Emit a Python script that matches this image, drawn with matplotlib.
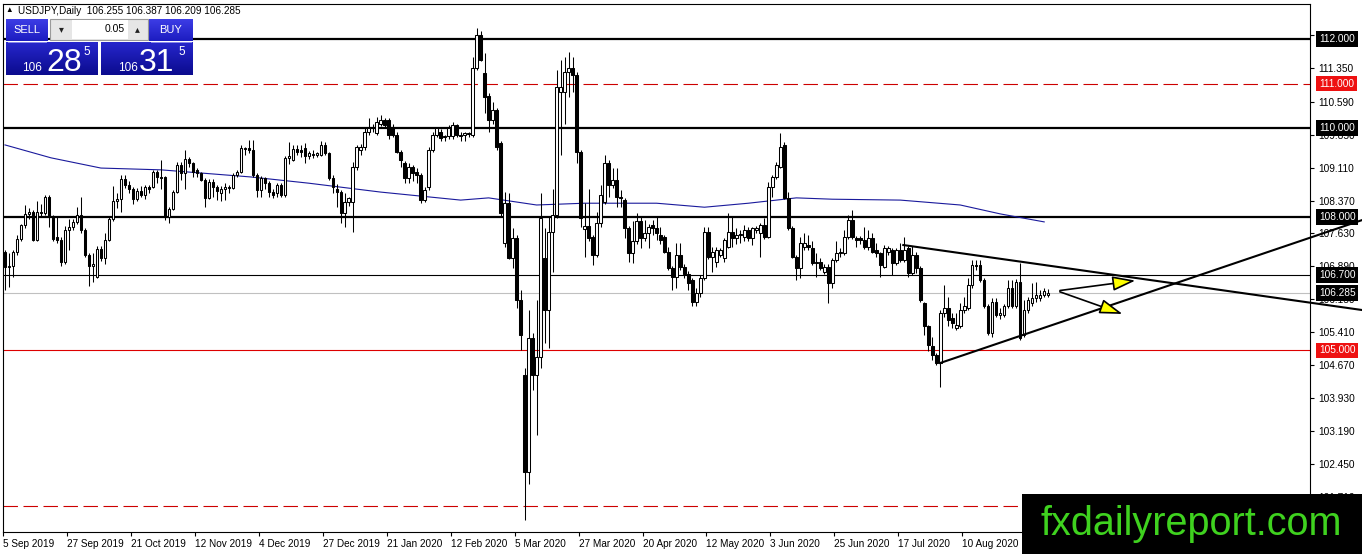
import numpy as np
import matplotlib.pyplot as plt
import matplotlib.transforms as mtransforms
from matplotlib.patches import Rectangle, FancyArrowPatch
from matplotlib.colors import LinearSegmentedColormap

plt.rcParams['font.family'] = ['Liberation Sans', 'DejaVu Sans']

# USDJPY daily candles (bar 0 = 5 Sep 2019)
opens = [
    107.21, 106.88, 106.90, 107.21, 107.51, 107.81, 108.07, 108.11, 107.48, 108.11,
    108.08, 108.45, 108.00, 107.55, 107.48, 107.00, 107.70, 107.78, 107.88, 108.05,
    107.70, 107.14, 106.91, 106.65, 107.28, 107.08, 107.48, 107.96, 108.37, 108.40,
    108.85, 108.72, 108.62, 108.40, 108.58, 108.50, 108.68,
    108.68, 109.02, 108.91, 108.89, 108.01, 108.19, 108.57, 109.17, 108.98, 109.30,
    109.21, 109.05, 108.98, 108.83, 108.42, 108.79, 108.68, 108.55, 108.62, 108.65,
    108.66, 108.95, 109.02, 109.52, 109.55, 109.51, 108.94, 108.61, 108.87, 108.76,
    108.57, 108.53, 108.72, 108.50, 109.32, 109.28, 109.52, 109.50,
    109.54, 109.36, 109.42, 109.40, 109.39, 109.62, 109.43, 108.87, 108.64, 108.57,
    108.08, 108.34, 108.34, 109.13, 109.51, 109.58, 109.92, 110.00, 109.88, 110.10,
    110.18, 110.18, 110.03, 109.84, 109.47, 109.21, 108.87, 109.13, 109.02, 108.95,
    108.38, 108.68, 109.51, 109.84, 109.92, 109.80, 109.81, 109.81, 110.07,
    109.84, 109.84, 109.88, 109.84, 111.34, 112.09, 111.23, 110.72, 110.18, 110.40,
    109.66, 107.41, 108.31, 107.07, 107.52, 106.13, 104.45, 102.28, 105.27, 104.45, 104.86,
    107.07, 105.91, 107.67, 108.04, 110.82, 110.82, 111.27, 111.34, 111.19, 109.47,
    107.74, 107.80, 107.55, 107.15, 107.86, 108.34, 109.21,
    108.72, 108.83, 108.46, 108.38, 107.75, 107.18, 107.45, 107.90, 107.52, 107.63,
    107.82, 107.75, 107.60, 107.56, 107.22, 106.85, 106.66, 107.15, 106.88, 106.73,
    106.58, 106.10, 106.29, 106.62, 107.67, 107.11, 107.00, 107.15, 107.07, 107.33,
    107.67, 107.52, 107.60, 107.56, 107.71,
    107.52, 107.71, 107.63, 107.82, 107.56, 108.68, 108.91, 109.13, 109.62, 108.42,
    107.75, 107.11, 106.85, 107.33, 107.37, 107.30, 106.96, 107.00, 106.77, 106.88,
    106.51, 107.03, 107.18, 107.18, 107.56, 107.93, 107.52, 107.52, 107.48, 107.33,
    107.52, 107.26, 107.18, 106.88, 107.22,
    107.26, 106.96, 107.26, 107.04, 107.30, 106.74, 107.15, 106.85, 106.06, 105.54,
    105.09, 104.90, 104.71, 105.84, 105.95, 105.73, 105.50, 105.54, 105.91, 105.95,
    106.48, 106.92, 106.92, 106.59, 105.99, 105.39, 106.10, 105.80, 105.80, 105.99,
    106.40, 105.99, 106.55, 105.35, 105.91, 106.06, 106.18, 106.18, 106.25, 106.255,
]
highs = [
    107.25, 107.18, 107.25, 107.59, 107.85, 108.26, 108.20, 108.15, 108.35, 108.30,
    108.50, 108.50, 108.05, 108.00, 107.55, 107.80, 107.95, 107.95, 108.22, 108.45,
    107.75, 107.20, 107.20, 107.35, 107.35, 107.65, 108.00, 108.70, 108.55, 108.95,
    108.95, 108.80, 108.68, 108.65, 108.70, 108.72, 108.72,
    109.06, 109.06, 109.28, 108.92, 108.22, 108.60, 109.24, 109.24, 109.51, 109.35,
    109.24, 109.10, 109.02, 108.88, 108.85, 108.85, 108.72, 108.70, 108.76, 108.72,
    108.98, 109.05, 109.62, 109.58, 109.73, 109.73, 108.98, 108.92, 108.91, 108.80,
    108.62, 108.76, 108.77, 109.36, 109.69, 109.62, 109.62, 109.62,
    109.66, 109.48, 109.50, 109.47, 109.70, 109.68, 109.47, 108.95, 108.75, 108.60,
    108.53, 108.45, 109.24, 109.62, 109.65, 110.00, 110.22, 110.10, 110.25, 110.29,
    110.22, 110.22, 110.10, 109.90, 109.50, 109.25, 109.21, 109.16, 109.10, 109.00,
    108.68, 109.58, 109.90, 110.03, 109.98, 109.85, 110.06, 110.14, 110.10,
    109.90, 109.92, 109.92, 111.60, 112.24, 112.17, 111.68, 110.78, 110.58, 110.45,
    109.70, 108.57, 108.53, 107.75, 107.60, 106.36, 104.60, 105.91, 105.39, 106.13, 108.53,
    107.75, 108.01, 108.64, 111.30, 111.53, 111.60, 111.71, 111.60, 111.25, 109.50,
    108.31, 108.64, 107.60, 108.12, 108.72, 109.39, 109.28,
    109.10, 109.10, 108.60, 108.42, 107.80, 107.90, 108.08, 108.01, 107.93, 107.85,
    107.93, 108.01, 107.78, 107.60, 107.33, 106.90, 107.41, 107.41, 106.95, 106.78,
    106.62, 106.40, 106.70, 107.78, 107.78, 107.33, 107.33, 107.30, 107.52, 108.08,
    108.01, 107.75, 107.71, 107.82, 107.78,
    107.78, 107.80, 107.86, 107.97, 108.79, 108.95, 109.24, 109.88, 109.69, 108.57,
    107.80, 107.15, 107.56, 107.63, 107.60, 107.45, 107.18, 107.07, 106.95, 106.95,
    107.08, 107.45, 107.30, 107.71, 108.05, 108.16, 107.58, 107.58, 107.78, 107.71,
    107.63, 107.41, 107.22, 107.37, 107.35,
    107.30, 107.30, 107.41, 107.56, 107.34, 107.34, 107.22, 106.90, 106.10, 105.58,
    105.31, 104.95, 105.91, 106.48, 106.21, 105.84, 105.84, 106.06, 106.21, 106.62,
    107.04, 107.04, 107.04, 106.62, 106.05, 106.18, 106.18, 105.95, 106.05, 106.59,
    106.59, 106.60, 106.96, 106.14, 106.21, 106.51, 106.55, 106.37, 106.40, 106.387,
]
lows = [
    106.35, 106.43, 106.65, 107.15, 107.45, 107.75, 107.95, 107.45, 107.45, 108.00,
    108.05, 107.78, 107.45, 107.42, 106.90, 106.95, 107.25, 107.70, 107.85, 107.65,
    107.10, 106.46, 106.55, 106.62, 107.02, 106.95, 107.45, 107.90, 108.20, 108.12,
    108.65, 108.55, 108.30, 108.35, 108.45, 108.40, 108.55,
    108.65, 108.76, 108.64, 107.93, 107.86, 108.15, 108.55, 108.83, 108.64, 109.12,
    108.91, 108.90, 108.80, 108.23, 108.40, 108.46, 108.38, 108.35, 108.38, 108.53,
    108.62, 108.90, 109.00, 109.40, 109.43, 108.90, 108.46, 108.45, 108.62, 108.46,
    108.43, 108.46, 108.44, 108.44, 109.20, 109.25, 109.40, 109.35,
    109.21, 109.30, 109.33, 109.35, 109.36, 109.40, 108.83, 108.53, 108.23, 107.86,
    107.78, 108.25, 107.67, 109.05, 109.40, 109.50, 109.85, 109.90, 109.85, 110.05,
    110.00, 109.76, 109.80, 109.43, 109.13, 108.76, 108.76, 108.80, 108.76, 108.31,
    108.34, 108.60, 109.45, 109.80, 109.70, 109.70, 109.75, 109.75, 109.80,
    109.70, 109.70, 109.80, 109.80, 111.30, 111.50, 110.33, 109.92, 110.10, 109.50,
    108.00, 107.33, 107.05, 106.85, 105.95, 105.01, 101.19, 102.01, 104.11, 103.10, 104.60,
    105.16, 105.05, 106.77, 107.97, 109.39, 110.10, 110.70, 110.80, 109.21, 107.78,
    107.10, 107.45, 106.92, 107.10, 107.78, 108.30, 108.46,
    108.65, 108.23, 108.23, 107.52, 107.00, 106.96, 107.40, 107.30, 107.45, 107.30,
    107.60, 107.48, 107.40, 107.18, 106.80, 106.36, 106.40, 106.80, 106.62, 106.36,
    105.99, 106.00, 106.20, 106.58, 107.05, 106.77, 106.88, 107.10, 107.00, 107.30,
    107.33, 107.40, 107.41, 107.45, 107.45,
    107.37, 107.65, 107.11, 107.50, 107.52, 108.46, 108.85, 109.10, 108.40, 107.70,
    107.07, 106.58, 106.62, 107.26, 107.25, 106.92, 106.66, 106.80, 106.72, 106.06,
    106.40, 106.98, 107.10, 107.15, 107.50, 107.50, 107.33, 107.40, 107.28, 107.26,
    107.18, 107.11, 106.66, 106.85, 107.15,
    106.70, 106.92, 107.00, 107.00, 106.66, 106.70, 106.74, 106.10, 105.35, 104.98,
    104.79, 104.68, 104.19, 105.75, 105.54, 105.50, 105.46, 105.50, 105.85, 105.90,
    106.40, 106.81, 106.55, 105.95, 105.35, 105.31, 105.76, 105.70, 105.75, 105.95,
    105.95, 105.95, 105.24, 105.30, 105.85, 106.00, 106.10, 106.12, 106.20, 106.209,
]
closes = [
    106.88, 106.91, 107.21, 107.51, 107.81, 108.07, 108.11, 107.48, 108.11, 108.08,
    108.45, 108.00, 107.51, 107.48, 107.00, 107.70, 107.78, 107.88, 108.05, 107.70,
    107.15, 106.91, 106.95, 107.28, 107.08, 107.48, 107.96, 108.37, 108.40, 108.85,
    108.72, 108.62, 108.40, 108.58, 108.50, 108.68, 108.62,
    109.02, 108.91, 108.88, 108.01, 108.19, 108.57, 109.17, 108.98, 109.30, 109.21,
    109.02, 108.98, 108.83, 108.42, 108.79, 108.68, 108.58, 108.64, 108.68, 108.67,
    108.95, 109.02, 109.54, 109.55, 109.50, 108.94, 108.61, 108.87, 108.76, 108.57,
    108.50, 108.72, 108.50, 109.32, 109.38, 109.52, 109.47, 109.45,
    109.36, 109.43, 109.39, 109.43, 109.62, 109.43, 108.87, 108.68, 108.57, 108.08,
    108.34, 108.42, 109.13, 109.58, 109.58, 109.92, 110.00, 110.00, 110.14, 110.18,
    110.07, 109.84, 109.84, 109.47, 109.28, 108.87, 109.13, 108.98, 108.95, 108.38,
    108.61, 109.51, 109.84, 110.00, 109.77, 109.81, 110.00, 110.07, 109.84,
    109.81, 109.88, 109.86, 111.34, 112.09, 111.53, 110.70, 110.18, 110.40, 109.58,
    108.08, 108.31, 107.07, 107.52, 106.13, 105.35, 102.28, 105.27, 104.45, 104.86, 107.97,
    105.91, 107.67, 108.04, 110.93, 110.93, 111.27, 111.34, 111.19, 109.47, 107.97,
    107.80, 107.52, 107.15, 107.86, 108.49, 109.21, 108.72,
    108.83, 108.46, 108.42, 107.75, 107.18, 107.45, 107.90, 107.52, 107.63, 107.78,
    107.75, 107.63, 107.48, 107.22, 106.85, 106.66, 107.15, 106.88, 106.73, 106.51,
    106.10, 106.29, 106.62, 107.67, 107.11, 107.22, 107.26, 107.26, 107.48, 107.67,
    107.52, 107.60, 107.61, 107.71, 107.52,
    107.75, 107.75, 107.82, 107.56, 108.68, 108.91, 109.17, 109.58, 108.42, 107.75,
    107.11, 106.85, 107.41, 107.41, 107.33, 106.96, 107.00, 106.85, 106.88, 106.51,
    107.03, 107.18, 107.22, 107.56, 107.93, 107.56, 107.48, 107.48, 107.33, 107.52,
    107.22, 107.18, 106.92, 107.30, 107.30,
    106.96, 107.26, 107.04, 107.26, 106.74, 107.15, 106.85, 106.14, 105.54, 105.13,
    104.90, 104.71, 105.84, 105.95, 105.69, 105.61, 105.58, 105.91, 105.99, 106.48,
    106.92, 106.89, 106.59, 105.99, 105.39, 106.10, 105.80, 105.84, 105.99, 106.40,
    105.99, 106.55, 105.28, 105.91, 106.14, 106.18, 106.25, 106.25, 106.33, 106.285,
]

# 200-day moving average, read at a few bars
ma_bars = [0, 11.5, 24, 39, 61.5, 76, 94, 114, 121, 133, 145, 163, 175, 186, 198, 207, 224, 239, 249, 260]
ma_vals = [109.62, 109.33, 109.10, 109.06, 108.90, 108.76, 108.56, 108.38, 108.43, 108.27,
           108.31, 108.31, 108.22, 108.31, 108.43, 108.40, 108.38, 108.27, 108.07, 107.89]

date_bars = [0, 16, 32, 48, 64, 80, 96, 112, 128, 144, 160, 176, 192, 208, 224, 240]
date_labels = ['5 Sep 2019', '27 Sep 2019', '21 Oct 2019', '12 Nov 2019', '4 Dec 2019',
               '27 Dec 2019', '21 Jan 2020', '12 Feb 2020', '5 Mar 2020', '27 Mar 2020',
               '20 Apr 2020', '12 May 2020', '3 Jun 2020', '25 Jun 2020', '17 Jul 2020',
               '10 Aug 2020']
price_ticks = [101.71, 102.45, 103.19, 103.93, 104.67, 105.41, 106.15, 106.89,
               107.63, 108.37, 109.11, 109.85, 110.59, 111.35, 112.09]

# horizontal levels: price, colour, width, style, label box colour
levels = [
    (112.0, 'black', 1.6, '-', 'black'),
    (111.0, '#cc0000', 0.8, (0, (13, 5)), '#ee1111'),
    (110.0, 'black', 1.6, '-', 'black'),
    (108.0, 'black', 1.6, '-', 'black'),
    (106.7, 'black', 0.8, '-', 'black'),
    (106.285, '#c0c0c0', 0.8, '-', 'black'),
    (105.0, '#dd0000', 0.8, '-', '#ee1111'),
    (101.5, '#cc0000', 0.8, (0, (13, 5)), None),
]

# triangle trendlines (bar, price)
tl_upper = ([224.75, 339.5], [107.37, 105.91])
tl_lower = ([234.0, 339.5], [104.72, 107.93])
arrow_start = (263.25, 106.34)
arrow_ends = [(283.5, 106.58), (280.25, 105.80)]

W, H = 1362, 554
fig = plt.figure(figsize=(W / 100, H / 100), dpi=100)
fig.patch.set_facecolor('white')
ax = fig.add_axes([3 / W, (H - 532) / H, (1310 - 3) / W, (532 - 4) / H])

o = np.array(opens)
h = np.array(highs)
l = np.array(lows)
c = np.array(closes)
idx = np.arange(len(o))
up = c >= o

for price, col, lw, ls, _ in levels:
    ax.axhline(price, color=col, lw=lw, ls=ls, zorder=1)

ax.plot(ma_bars, ma_vals, color='#1a1a9c', lw=0.8, zorder=1.5)

ax.vlines(idx, l, h, color='black', lw=0.75, zorder=2)
ax.bar(idx[up], c[up] - o[up], bottom=o[up], width=0.62, color='white',
       edgecolor='black', linewidth=0.75, zorder=3)
ax.bar(idx[~up], c[~up] - o[~up], bottom=o[~up], width=0.62, color='black',
       edgecolor='black', linewidth=0.75, zorder=3)

ax.plot(*tl_upper, color='black', lw=1.5, clip_on=False, zorder=4)
ax.plot(*tl_lower, color='black', lw=1.5, clip_on=False, zorder=4)
for end in arrow_ends:
    arr = FancyArrowPatch(arrow_start, end, arrowstyle='-|>,head_length=14,head_width=4.5',
                          mutation_scale=1, fc='#ffff00', ec='black', lw=1.2,
                          clip_on=False, zorder=6)
    ax.add_patch(arr)

ax.set_xlim(-0.25, 326.5)
ax.set_ylim(100.921, 112.787)

ax.yaxis.tick_right()
ax.set_yticks(price_ticks)
ax.set_yticklabels([f'{t:.3f}' for t in price_ticks])
ax.tick_params(axis='y', direction='out', length=3, width=0.8, pad=3, labelsize=7.3)
ax.set_xticks([b - 0.5 for b in date_bars])
ax.set_xticklabels(date_labels)
for lab in ax.get_xticklabels():
    lab.set_ha('left')
ax.tick_params(axis='x', direction='out', length=3, width=0.8, pad=2, labelsize=7.2)
for sp in ax.spines.values():
    sp.set_color('black')
    sp.set_linewidth(0.8)

tr = mtransforms.blended_transform_factory(ax.transAxes, ax.transData)
for price, _, _, _, box in levels:
    if box is None:
        continue
    ax.text(1.0 + 9 / 1307, price, f'{price:.3f}', transform=tr, ha='left', va='center',
            color='white', fontsize=7.3, clip_on=False, zorder=7,
            bbox=dict(boxstyle='square,pad=0.28', fc=box, ec='none'))

# trading panel and watermark, in pixel coordinates
ui = fig.add_axes([0, 0, 1, 1], zorder=10)
ui.patch.set_alpha(0)


def grad_box(x0, y0, x1, y1, top, bottom):
    cmap = LinearSegmentedColormap.from_list('g', [top, bottom])
    ui.imshow(np.linspace(0, 1, 64).reshape(-1, 1), extent=(x0, x1, y1, y0),
              cmap=cmap, aspect='auto', zorder=1)


grad_box(6, 19, 48, 41, '#3d3de6', '#1c1cc0')
grad_box(149, 19, 193, 41, '#3d3de6', '#1c1cc0')
grad_box(6, 42, 98, 75, '#2626cc', '#0b0b8e')
grad_box(101, 42, 193, 75, '#2626cc', '#0b0b8e')
ui.plot([8, 46], [41.5, 41.5], color='#8a8ae8', lw=0.7, zorder=2)
ui.plot([151, 191], [41.5, 41.5], color='#8a8ae8', lw=0.7, zorder=2)

ui.add_patch(Rectangle((50, 19), 98, 21, fc='#e6e6e6', ec='#9a9a9a', lw=0.8, zorder=2))
ui.add_patch(Rectangle((72, 20), 56, 19, fc='white', ec='none', zorder=3))
ui.text(61, 29.5, '▾', fontsize=7, ha='center', va='center', color='#222222', zorder=4)
ui.text(137, 29.5, '▴', fontsize=7, ha='center', va='center', color='#222222', zorder=4)
ui.text(125, 29.5, '0.05', fontsize=7.5, ha='right', va='center', color='black', zorder=4)

ui.text(27, 30, 'SELL', fontsize=8, ha='center', va='center', color='white', zorder=4)
ui.text(171, 30, 'BUY', fontsize=8, ha='center', va='center', color='white', zorder=4)
ui.text(32, 71, '106', fontsize=8.5, ha='center', va='baseline', color='white', zorder=4)
ui.text(64, 71, '28', fontsize=23, ha='center', va='baseline', color='white', zorder=4)
ui.text(87, 55, '5', fontsize=8.5, ha='center', va='baseline', color='white', zorder=4)
ui.text(128, 71, '106', fontsize=8.5, ha='center', va='baseline', color='white', zorder=4)
ui.text(157, 71, '31', fontsize=23, ha='center', va='baseline', color='white', zorder=4)
ui.text(182, 55, '5', fontsize=8.5, ha='center', va='baseline', color='white', zorder=4)

ui.text(5, 10.5, '▲', fontsize=5.5, ha='left', va='center', color='black')
ui.text(18, 10.5, 'USDJPY,Daily  106.255 106.387 106.209 106.285', fontsize=7.2,
        ha='left', va='center', color='black')

ui.add_patch(Rectangle((1022, 494), 340, 60, fc='black', ec='none', zorder=5))
ui.text(1191, 535, 'fxdailyreport.com', fontsize=28.5, ha='center', va='baseline',
        color='#3fd21f', zorder=6)

ui.set_xlim(0, W)
ui.set_ylim(H, 0)
ui.axis('off')

fig.savefig('out.png', dpi=100, facecolor='white')
